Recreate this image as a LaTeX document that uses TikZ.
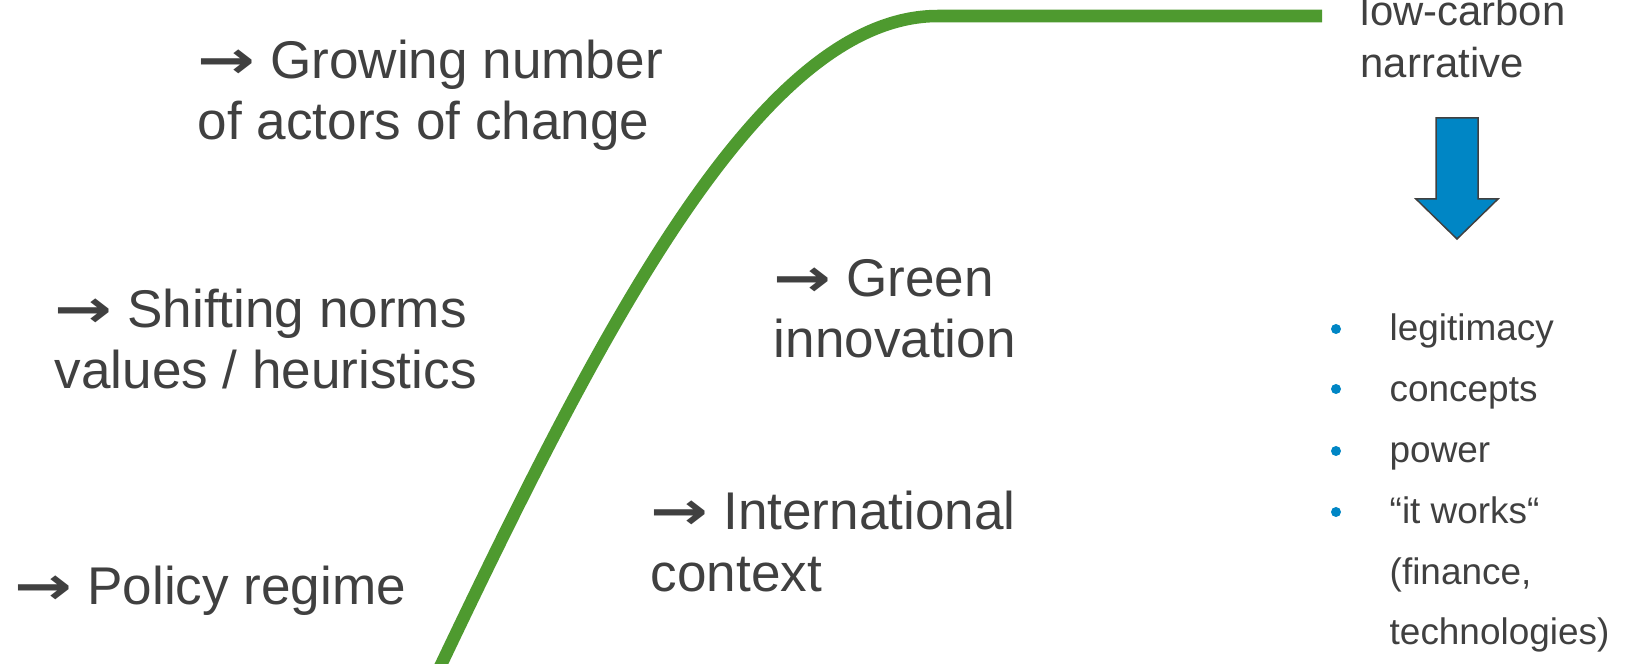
\documentclass[tikz,border=0pt]{standalone}
\usepackage{fontspec}
\usepackage{graphicx}
\setmainfont{Liberation Sans}
\newfontfamily\arrowfont{DejaVu Sans}
\newcommand{\steparrow}{\scalebox{1.3}[1]{\arrowfont\bfseries →}}
\definecolor{txtgray}{HTML}{404040}
\definecolor{curvegreen}{HTML}{4E9A2F}
\definecolor{narrblue}{HTML}{0086C5}
\tikzset{
  bigtext/.style={anchor=base west, inner sep=0pt, align=left, text=txtgray,
    font=\fontsize{15.1}{17.6}\selectfont},
  midtext/.style={anchor=base west, inner sep=0pt, align=left, text=txtgray,
    font=\fontsize{11.9}{14.8}\selectfont},
  listtext/.style={anchor=base west, inner sep=0pt, align=left, text=txtgray,
    font=\fontsize{10.5}{17.3}\selectfont},
  bulletdot/.style={circle, fill=narrblue, inner sep=0pt, minimum size=0.1cm},
}
\begin{document}
\begin{tikzpicture}[x=0.01cm, y=-0.01cm]
                \useasboundingbox (0,0) rectangle (1626,664);
                \clip (0,0) rectangle (1626,664);
                
                % Drawing the S curve
                \draw [curvegreen, line width=0.125cm] (430,688) .. controls (600,330) and (760,16) .. (938,16) -- (1322,16);%
                
                % Marking actors (placed at the last baseline)
                \node [bigtext] (actors) at (197,140) {\steparrow{} Growing number\\of actors of change};%
                
                % Marking norms
                \node [bigtext] (norms) at (54,389) {\steparrow{} Shifting norms\\values / heuristics};%
                
                % Marking regime
                \node [bigtext] (regime) at (14,605) {\steparrow{} Policy regime};%
                
                % Marking innovation
                \node [bigtext] (innovation) at (773,358) {\steparrow{} Green\\innovation};%
                
                % Marking context
                \node [bigtext] (context) at (650,591) {\steparrow{} International\\context};%
                
                % Marking narrative
                \node [midtext] (narrative) at (1360,78) {low-carbon\\narrative};%
                
                % Drawing the down arrow
                \draw [line width=0.015cm, draw=txtgray, fill=narrblue] (1436,118) -- (1478,118) -- (1478,199) -- (1498,199) -- (1457,239) -- (1416,199) -- (1436,199) -- cycle;%
                
                % Marking the list
                \node [listtext] (effects) at (1389,645) {legitimacy\\concepts\\power\\“it works“\\(finance,\\technologies)};%
                \node [bulletdot] (dot1) at (1336,329) {};%
                \node [bulletdot] (dot2) at (1336,389) {};%
                \node [bulletdot] (dot3) at (1336,451) {};%
                \node [bulletdot] (dot4) at (1336,512) {};%
\end{tikzpicture}
\end{document}
